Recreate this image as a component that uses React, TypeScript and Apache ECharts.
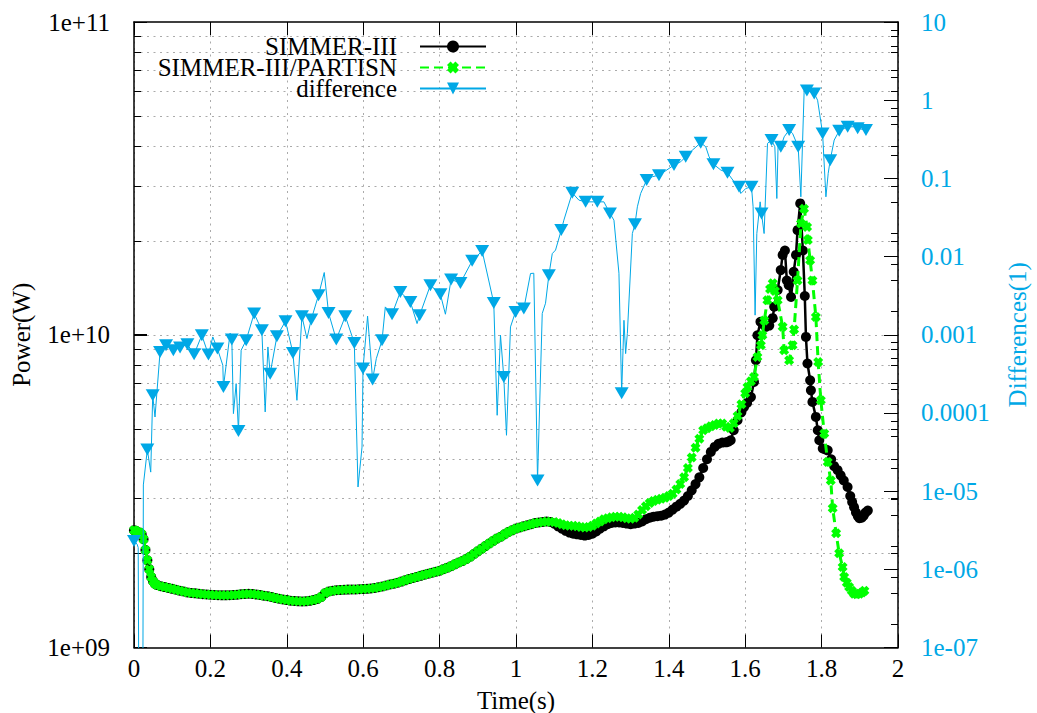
import { useEffect, useRef } from "react";
import * as echarts from "echarts";

const BLUE = "#00a8e6";
const GREEN = "#00ff00";
const FONT = "Liberation Serif";

// ---- Power, shared part of both runs (t <= 1.09 s) ----
const earlyTime = [
  0, 0.005, 0.01, 0.015, 0.02, 0.025, 0.03, 0.035, 0.04, 0.045, 0.05, 0.055, 0.06,
  0.07, 0.08, 0.09, 0.1, 0.11, 0.12, 0.13, 0.14, 0.15, 0.16, 0.17, 0.18, 0.19, 0.2,
  0.21, 0.22, 0.23, 0.24, 0.25, 0.26, 0.27, 0.28, 0.29, 0.3, 0.31, 0.32, 0.33, 0.34,
  0.35, 0.36, 0.37, 0.38, 0.39, 0.4, 0.41, 0.42, 0.43, 0.44, 0.45, 0.46, 0.47, 0.48,
  0.49, 0.5, 0.51, 0.52, 0.53, 0.54, 0.55, 0.56, 0.57, 0.58, 0.59, 0.6, 0.61, 0.62,
  0.63, 0.64, 0.65, 0.66, 0.67, 0.68, 0.69, 0.7, 0.71, 0.72, 0.73, 0.74, 0.75, 0.76,
  0.77, 0.78, 0.79, 0.8, 0.81, 0.82, 0.83, 0.84, 0.85, 0.86, 0.87, 0.88, 0.89, 0.9,
  0.91, 0.92, 0.93, 0.94, 0.95, 0.96, 0.97, 0.98, 0.99, 1.0, 1.01, 1.02, 1.03, 1.04,
  1.05, 1.06, 1.07, 1.08, 1.09,
];
const earlyPower = [
  2.37e9, 2.36e9, 2.33e9, 2.33e9, 2.3e9, 2.22e9, 2.05e9, 1.9e9, 1.78e9, 1.68e9, 1.63e9, 1.6e9, 1.585e9,
  1.57e9, 1.56e9, 1.55e9, 1.54e9, 1.53e9, 1.52e9, 1.51e9, 1.5e9, 1.495e9, 1.49e9, 1.485e9, 1.48e9, 1.478e9, 1.475e9,
  1.472e9, 1.47e9, 1.468e9, 1.468e9, 1.47e9, 1.472e9, 1.475e9, 1.48e9, 1.483e9, 1.485e9, 1.483e9, 1.478e9, 1.472e9, 1.465e9,
  1.458e9, 1.45e9, 1.44e9, 1.432e9, 1.424e9, 1.418e9, 1.412e9, 1.408e9, 1.405e9, 1.404e9, 1.405e9, 1.41e9, 1.418e9, 1.43e9,
  1.45e9, 1.49e9, 1.51e9, 1.52e9, 1.525e9, 1.528e9, 1.53e9, 1.532e9, 1.533e9, 1.534e9, 1.535e9, 1.537e9, 1.54e9, 1.545e9,
  1.55e9, 1.558e9, 1.567e9, 1.578e9, 1.59e9, 1.6e9, 1.612e9, 1.625e9, 1.64e9, 1.655e9, 1.668e9, 1.68e9, 1.695e9, 1.71e9,
  1.722e9, 1.735e9, 1.748e9, 1.76e9, 1.78e9, 1.8e9, 1.82e9, 1.845e9, 1.87e9, 1.89e9, 1.92e9, 1.95e9, 1.99e9, 2.03e9,
  2.07e9, 2.11e9, 2.15e9, 2.19e9, 2.23e9, 2.26e9, 2.3e9, 2.34e9, 2.37e9, 2.4e9, 2.42e9, 2.44e9, 2.46e9, 2.48e9,
  2.5e9, 2.51e9, 2.52e9, 2.53e9, 2.52e9,
];

// ---- SIMMER-III after 1.09 s ----
const s3Time = [
  1.1, 1.11, 1.12, 1.13, 1.14, 1.15, 1.16, 1.17, 1.18, 1.19, 1.2, 1.21, 1.22, 1.23, 1.24,
  1.25, 1.26, 1.27, 1.28, 1.29, 1.3, 1.31, 1.32, 1.33, 1.34, 1.35, 1.36, 1.37, 1.38, 1.39,
  1.4, 1.41, 1.42, 1.43, 1.44, 1.45, 1.46, 1.47, 1.48, 1.49, 1.5, 1.51, 1.52, 1.53, 1.54,
  1.55, 1.556, 1.562, 1.57, 1.58, 1.59, 1.597, 1.605, 1.615, 1.623, 1.628, 1.632, 1.64,
  1.647, 1.654, 1.663, 1.672, 1.676, 1.685, 1.693, 1.698, 1.704, 1.709, 1.714, 1.72,
  1.727, 1.733, 1.737, 1.744, 1.751, 1.756, 1.759, 1.763, 1.77, 1.772, 1.776, 1.785,
  1.79, 1.794, 1.803, 1.81, 1.816, 1.825, 1.833, 1.842, 1.85, 1.858, 1.868, 1.875,
  1.88, 1.885, 1.89, 1.895, 1.899, 1.905, 1.91, 1.915, 1.921,
];
const s3Power = [
  2.49e9, 2.44e9, 2.4e9, 2.36e9, 2.33e9, 2.31e9, 2.3e9, 2.29e9, 2.28e9, 2.29e9, 2.31e9, 2.35e9, 2.4e9, 2.44e9, 2.48e9,
  2.5e9, 2.51e9, 2.51e9, 2.5e9, 2.49e9, 2.48e9, 2.49e9, 2.5e9, 2.53e9, 2.57e9, 2.6e9, 2.62e9, 2.63e9, 2.64e9, 2.66e9,
  2.7e9, 2.76e9, 2.82e9, 2.88e9, 2.95e9, 3.05e9, 3.18e9, 3.33e9, 3.5e9, 3.75e9, 4.0e9, 4.22e9, 4.38e9, 4.48e9, 4.52e9,
  4.53e9, 4.55e9, 4.6e9, 4.95e9, 5.33e9, 5.65e9, 5.87e9, 6.05e9, 6.32e9, 7.06e9, 8.29e9, 9.96e9, 1.1e10,
  1.08e10, 1.06e10, 1.07e10, 1.13e10, 1.23e10, 1.39e10, 1.61e10, 1.8e10, 1.86e10, 1.49e10, 1.44e10, 1.32e10,
  1.59e10, 1.8e10, 2.16e10, 2.63e10, 1.86e10, 1.33e10, 9.84e9, 8.09e9, 7.15e9, 6.64e9, 6.1e9, 5.46e9,
  4.95e9, 4.6e9, 4.33e9, 4.3e9, 4.27e9, 4.0e9, 3.8e9, 3.69e9, 3.55e9, 3.42e9, 3.26e9, 3.05e9,
  2.92e9, 2.81e9, 2.7e9, 2.63e9, 2.59e9, 2.6e9, 2.64e9, 2.7e9, 2.74e9,
];

// ---- SIMMER-III/PARTISN after 1.09 s ----
const partisnTime = [
  1.1, 1.11, 1.12, 1.13, 1.14, 1.15, 1.16, 1.17, 1.18, 1.19, 1.2, 1.21, 1.22, 1.23, 1.24,
  1.25, 1.26, 1.27, 1.28, 1.29, 1.3, 1.31, 1.32, 1.33, 1.34, 1.35, 1.36, 1.37, 1.38, 1.39,
  1.4, 1.41, 1.42, 1.43, 1.44, 1.45, 1.46, 1.47, 1.48, 1.49, 1.5, 1.51, 1.52, 1.53, 1.54,
  1.55, 1.56, 1.57, 1.58, 1.59, 1.6, 1.606, 1.615, 1.623, 1.632, 1.641, 1.645, 1.65, 1.658,
  1.665, 1.672, 1.678, 1.685, 1.698, 1.702, 1.715, 1.724, 1.728, 1.737, 1.746, 1.754, 1.762,
  1.764, 1.77, 1.776, 1.785, 1.791, 1.798, 1.807, 1.816, 1.824, 1.829, 1.838, 1.846, 1.855,
  1.859, 1.866, 1.872, 1.879, 1.885, 1.892, 1.899, 1.906, 1.912,
];
const partisnPower = [
  2.52e9, 2.5e9, 2.48e9, 2.46e9, 2.45e9, 2.45e9, 2.44e9, 2.43e9, 2.42e9, 2.43e9, 2.45e9, 2.49e9, 2.53e9, 2.57e9, 2.59e9,
  2.61e9, 2.62e9, 2.62e9, 2.61e9, 2.59e9, 2.58e9, 2.6e9, 2.66e9, 2.75e9, 2.83e9, 2.9e9, 2.94e9, 2.97e9, 2.99e9, 3.01e9,
  3.05e9, 3.1e9, 3.2e9, 3.33e9, 3.5e9, 3.75e9, 4.05e9, 4.35e9, 4.65e9, 4.95e9, 5.02e9, 5.1e9, 5.15e9, 5.2e9, 5.2e9,
  5.08e9, 5.03e9, 5.21e9, 5.5e9, 6.0e9, 6.5e9, 6.81e9, 7.1e9, 7.33e9, 8.49e9, 9.26e9, 9.96e9, 1.11e10, 1.29e10,
  1.4e10, 1.46e10, 1.38e10, 1.29e10, 1.06e10, 8.92e9, 8.29e9, 9.26e9, 1.04e10, 1.49e10, 2.27e10, 2.53e10, 2.21e10,
  2.01e10, 1.73e10, 1.49e10, 1.14e10, 8.18e9, 6.17e9, 4.83e9, 3.92e9, 3.42e9, 2.79e9, 2.32e9, 2.0e9, 1.81e9,
  1.68e9, 1.61e9, 1.56e9, 1.52e9, 1.485e9, 1.48e9, 1.485e9, 1.5e9, 1.52e9,
];

// ---- difference (right axis); diffMarked = 1 where a triangle is drawn ----
const diffTime = [
  0, 0.008, 0.011, 0.013, 0.023, 0.0245, 0.0349, 0.0438, 0.049, 0.055, 0.0682, 0.0839, 0.103,
  0.1206, 0.1397, 0.1573, 0.1775, 0.1948, 0.2063, 0.2183, 0.2325, 0.2341, 0.2516, 0.2561,
  0.2603, 0.2674, 0.2734, 0.2805, 0.2936, 0.3145, 0.3347, 0.3434, 0.3505, 0.3565, 0.3741,
  0.3966, 0.416, 0.4265, 0.4396, 0.4527, 0.464, 0.4831, 0.498, 0.5093, 0.5295, 0.5531,
  0.5767, 0.5864, 0.5969, 0.5995, 0.6115, 0.6246, 0.6343, 0.6493, 0.6579, 0.6755, 0.6972,
  0.7235, 0.741, 0.7478, 0.7759, 0.8021, 0.8152, 0.8301, 0.8545, 0.8852, 0.9114, 0.9418,
  0.9507, 0.9594, 0.968, 0.9751, 0.9856, 0.9987, 1.0205, 1.038, 1.0466, 1.0564, 1.0687,
  1.0773, 1.086, 1.0949, 1.1035, 1.1185, 1.1253, 1.1473, 1.1646, 1.1822, 1.2128, 1.2301,
  1.2459, 1.2564, 1.2695, 1.2766, 1.2826, 1.287, 1.2915, 1.3046, 1.3114, 1.3177, 1.3263,
  1.342, 1.357, 1.3743, 1.3874, 1.4136, 1.4312, 1.4443, 1.4619, 1.4836, 1.4967, 1.5054,
  1.5169, 1.536, 1.5536, 1.571, 1.584, 1.5885, 1.6016, 1.6165, 1.6207, 1.6259, 1.6304,
  1.6391, 1.6427, 1.6495, 1.6584, 1.6689, 1.6776, 1.6828, 1.6862, 1.6933, 1.702, 1.7151,
  1.724, 1.7387, 1.7457, 1.7544, 1.7615, 1.7806, 1.7895, 1.8026, 1.8113, 1.8173, 1.8225,
  1.833, 1.8461, 1.8682, 1.8855, 1.8944, 1.9161,
];
const diffValue = [
  2.3e-6, 2.1e-6, 1.9e-6, 1e-8, 1e-8, 1.2e-5, 3.4e-5, 1.75e-5, 1.68e-4, 8.87e-5, 6.03e-4, 7.34e-4, 6.34e-4,
  6.86e-4, 7.55e-4, 5.62e-4, 9.87e-4, 5.57e-4, 9.38e-4, 6.65e-4, 4.07e-4, 2.15e-4, 1.05e-3, 8.67e-4,
  9.8e-5, 2.37e-4, 5.88e-5, 6.34e-4, 8.51e-4, 1.87e-3, 1.14e-3, 1.03e-4, 6.98e-4, 3.18e-4, 9.57e-4,
  1.49e-3, 5.85e-4, 1.45e-4, 1.73e-3, 8.93e-4, 1.57e-3, 3.21e-3, 6.25e-3, 1.9e-3, 8.69e-4, 1.73e-3,
  7.85e-4, 1.13e-5, 3.66e-5, 3.69e-4, 1.73e-3, 2.67e-4, 4.95e-4, 8.51e-4, 2.27e-3, 1.83e-3, 3.53e-3,
  2.63e-3, 1.39e-3, 1.78e-3, 4.31e-3, 3.3e-3, 1.83e-3, 5.09e-3, 4.6e-3, 8.81e-3, 1.18e-2, 2.55e-3,
  9.33e-5, 9.87e-4, 2.88e-4, 5.18e-5, 1.26e-3, 1.96e-3, 2.16e-3, 6.07e-3, 6.12e-3, 1.37e-5, 1.87e-3,
  2.53e-3, 5.78e-3, 1.09e-2, 1.21e-2, 2.18e-2, 2.92e-2, 6.53e-2, 5.27e-2, 5.01e-2, 5.01e-2, 5.01e-2,
  3.56e-2, 2.92e-2, 6.12e-3, 1.78e-4, 1.53e-3, 5.74e-4, 1.04e-3, 1.97e-2, 2.59e-2, 4.33e-2, 6.41e-2,
  9.51e-2, 0.105, 0.11, 0.121, 0.148, 0.163, 0.189, 0.23, 0.285, 0.254, 0.189,
  0.152, 0.128, 0.118, 0.0904, 0.078, 0.0641, 0.0743, 0.078, 0.0433, 1.78e-3, 0.0197,
  0.0501, 0.0356, 0.0197, 0.28, 0.309, 0.254, 0.0553, 0.28, 0.254, 0.34, 0.415,
  0.376, 0.254, 0.0581, 1.35, 1.33, 1.22, 1.0, 0.376, 0.0581, 0.116, 0.171,
  0.309, 0.406, 0.457, 0.457, 0.437, 0.415,
];
const diffMarked = [
  1, 0, 0, 0, 0, 0, 1, 0, 1, 0, 1, 1, 1,
  1, 1, 1, 1, 1, 0, 1, 0, 1, 0, 1,
  0, 0, 1, 0, 1, 1, 1, 0, 0, 1, 1,
  1, 1, 0, 1, 0, 1, 1, 0, 1, 1, 1,
  1, 0, 0, 1, 0, 1, 0, 1, 0, 1, 1,
  1, 0, 1, 1, 1, 0, 1, 1, 1, 1, 1,
  0, 0, 1, 0, 0, 1, 1, 0, 0, 1, 0,
  0, 1, 0, 0, 1, 0, 1, 0, 1, 1, 0,
  1, 0, 0, 1, 0, 0, 0, 0, 1, 0, 0,
  1, 0, 1, 0, 1, 0, 1, 0, 1, 0, 0,
  1, 0, 1, 0, 1, 0, 0, 1, 0, 0, 0,
  0, 1, 0, 0, 1, 0, 0, 0, 1, 0, 1,
  0, 1, 0, 0, 1, 1, 0, 1, 0, 0, 1,
  0, 1, 1, 0, 1, 1,
];

// ---- axis decorations ----
const leftMinorMultipliers = [2, 3, 4, 5, 6, 7, 8, 9];
const leftDecades = [1e9, 1e10];
const rightMinorMultipliers = [2, 5, 8];
const rightDecades = [1e-7, 1e-6, 1e-5, 1e-4, 1e-3, 1e-2, 1e-1, 1];

const CROSS = "path://M3,0L5,2L7,0L10,3L8,5L10,7L7,10L5,8L3,10L0,7L2,5L0,3Z";

function leftFmt(v: number) {
  const e = Math.round(Math.log10(v));
  return "1e+" + String(e).padStart(2, "0");
}
function rightFmt(v: number) {
  const e = Math.round(Math.log10(v));
  if (e <= -5) return "1e-" + String(-e).padStart(2, "0");
  if (e < 0) return "0." + "0".repeat(-e - 1) + "1";
  return String(Math.pow(10, e));
}

export default function App() {
  const ref = useRef<HTMLDivElement>(null);
  useEffect(() => {
    if (!ref.current) return;
    const chart = echarts.init(ref.current, undefined, { renderer: "svg" });

    const leftGrid: number[][] = [];
    leftDecades.forEach((d) => {
      leftMinorMultipliers.forEach((m) => leftGrid.push([1, m * d]));
    });
    leftGrid.push([1, 1e10]);
    const rightTicks: number[][] = [];
    rightDecades.forEach((d) => {
      rightMinorMultipliers.forEach((m) => rightTicks.push([1, m * d]));
    });

    const s3Data = [
      ...earlyTime.map((t, i) => [t, earlyPower[i]]),
      ...s3Time.map((t, i) => [t, s3Power[i]]),
    ];
    const partisnData = [
      ...earlyTime.map((t, i) => [t, earlyPower[i]]),
      ...partisnTime.map((t, i) => [t, partisnPower[i]]),
    ];
    const diffData = diffTime.map((t, i) =>
      diffMarked[i] ? { value: [t, diffValue[i]] } : { value: [t, diffValue[i]], symbol: "none" }
    );

    const textBase = { fontFamily: FONT, fontSize: 25, color: "#000" };

    chart.setOption({
      animation: false,
      backgroundColor: "#fff",
      textStyle: { fontFamily: FONT },
      grid: { left: 134, top: 22, width: 764, height: 625.5, outerBoundsMode: "none", containLabel: false },
      legend: {
        data: ["SIMMER-III", "SIMMER-III/PARTISN", "difference"],
        orient: "vertical",
        align: "right",
        right: 550,
        top: 34,
        padding: 0,
        itemGap: -4,
        itemWidth: 66,
        itemHeight: 15,
        selectedMode: false,
        textStyle: { ...textBase, lineHeight: 21.5, padding: [0, 18, 0, 0] },
      },
      xAxis: [
        {
          type: "value",
          min: 0,
          max: 2,
          interval: 0.2,
          position: "bottom",
          axisLine: { show: true, onZero: false, lineStyle: { color: "#000", width: 1.5 } },
          axisTick: { show: true, inside: true, length: 13, lineStyle: { color: "#000", width: 1 } },
          axisLabel: { ...textBase, margin: 8, showMinLabel: true, showMaxLabel: true },
          splitLine: { show: true, lineStyle: { color: "#aaa", width: 1, type: [2, 4.5] } },
          name: "Time(s)",
          nameLocation: "middle",
          nameGap: 40,
          nameTextStyle: textBase,
        },
        {
          type: "value",
          min: 0,
          max: 2,
          interval: 0.2,
          position: "top",
          axisLine: { show: true, onZero: false, lineStyle: { color: "#000", width: 1.5 } },
          axisTick: { show: true, inside: true, length: 13, lineStyle: { color: "#000", width: 1 } },
          axisLabel: { show: false },
          splitLine: { show: false },
        },
      ],
      yAxis: [
        {
          type: "log",
          logBase: 10,
          min: 1e9,
          max: 1e11,
          position: "left",
          axisLine: { show: true, onZero: false, lineStyle: { color: "#000", width: 1.5 } },
          axisTick: { show: true, inside: true, length: 13, lineStyle: { color: "#000", width: 1 } },
          axisLabel: { ...textBase, margin: 24, formatter: leftFmt, showMinLabel: true, showMaxLabel: true },
          splitLine: { show: false },
          name: "Power(W)",
          nameLocation: "middle",
          nameRotate: 90,
          nameGap: 100,
          nameTextStyle: textBase,
        },
        {
          type: "log",
          logBase: 10,
          min: 1e-7,
          max: 10,
          splitNumber: 8,
          position: "right",
          axisLine: { show: true, onZero: false, lineStyle: { color: "#000", width: 1.5 } },
          axisTick: { show: true, inside: true, length: 14, lineStyle: { color: "#000", width: 1 } },
          axisLabel: { ...textBase, color: BLUE, margin: 23, formatter: rightFmt, showMinLabel: true, showMaxLabel: true },
          splitLine: { show: false },
          name: "Differences(1)",
          nameLocation: "middle",
          nameRotate: 90,
          nameGap: 107,
          nameTextStyle: { ...textBase, color: BLUE },
        },
      ],
      series: [
        {
          type: "custom",
          name: "leftGrid",
          coordinateSystem: "cartesian2d",
          xAxisIndex: 0,
          yAxisIndex: 0,
          z: 1,
          silent: true,
          data: leftGrid,
          encode: { x: 0, y: 1 },
          renderItem: (params: any, api: any) => {
            const v = api.value(1);
            const p = api.coord([1, v]);
            const cs = params.coordSys;
            const lg = Math.log10(v);
            const major = Math.abs(lg - Math.round(lg)) < 1e-6;
            const len = major ? 13 : 7;
            const y = Math.round(p[1]) + 0.5;
            return {
              type: "group",
              children: [
                {
                  type: "line",
                  shape: { x1: cs.x, y1: y, x2: cs.x + cs.width, y2: y },
                  style: { stroke: "#aaa", lineWidth: 1, lineDash: [2, 4.5] },
                },
                {
                  type: "line",
                  shape: { x1: cs.x, y1: y, x2: cs.x + len, y2: y },
                  style: { stroke: "#000", lineWidth: 1 },
                },
                {
                  type: "line",
                  shape: { x1: cs.x + cs.width - len, y1: y, x2: cs.x + cs.width, y2: y },
                  style: { stroke: "#000", lineWidth: 1 },
                },
              ],
            };
          },
        },
        {
          type: "custom",
          name: "rightTicks",
          coordinateSystem: "cartesian2d",
          xAxisIndex: 0,
          yAxisIndex: 1,
          z: 1,
          silent: true,
          data: rightTicks,
          encode: { x: 0, y: 1 },
          renderItem: (params: any, api: any) => {
            const v = api.value(1);
            const p = api.coord([1, v]);
            const cs = params.coordSys;
            const y = Math.round(p[1]) + 0.5;
            return {
              type: "line",
              shape: { x1: cs.x + cs.width - 7, y1: y, x2: cs.x + cs.width, y2: y },
              style: { stroke: "#000", lineWidth: 1 },
            };
          },
        },
        {
          type: "line",
          name: "SIMMER-III",
          xAxisIndex: 0,
          yAxisIndex: 0,
          data: s3Data,
          symbol: "circle",
          symbolSize: 10,
          showSymbol: true,
          itemStyle: { color: "#000" },
          lineStyle: { color: "#000", width: 2.5 },
          z: 3,
        },
        {
          type: "line",
          name: "SIMMER-III/PARTISN",
          xAxisIndex: 0,
          yAxisIndex: 0,
          data: partisnData,
          symbol: CROSS,
          symbolSize: 10,
          showSymbol: true,
          itemStyle: { color: GREEN },
          lineStyle: { color: GREEN, width: 3, type: [9, 5] },
          z: 4,
        },
        {
          type: "line",
          name: "difference",
          xAxisIndex: 0,
          yAxisIndex: 1,
          data: diffData,
          symbol: "triangle",
          symbolRotate: 180,
          symbolSize: [14, 12],
          showSymbol: true,
          itemStyle: { color: BLUE },
          lineStyle: { color: BLUE, width: 1 },
          z: 5,
        },
      ],
    });
    return () => chart.dispose();
  }, []);
  return (
    <div
      ref={ref}
      style={{ position: "fixed", left: 0, top: 0, width: 1037, height: 713, background: "#fff" }}
    />
  );
}
